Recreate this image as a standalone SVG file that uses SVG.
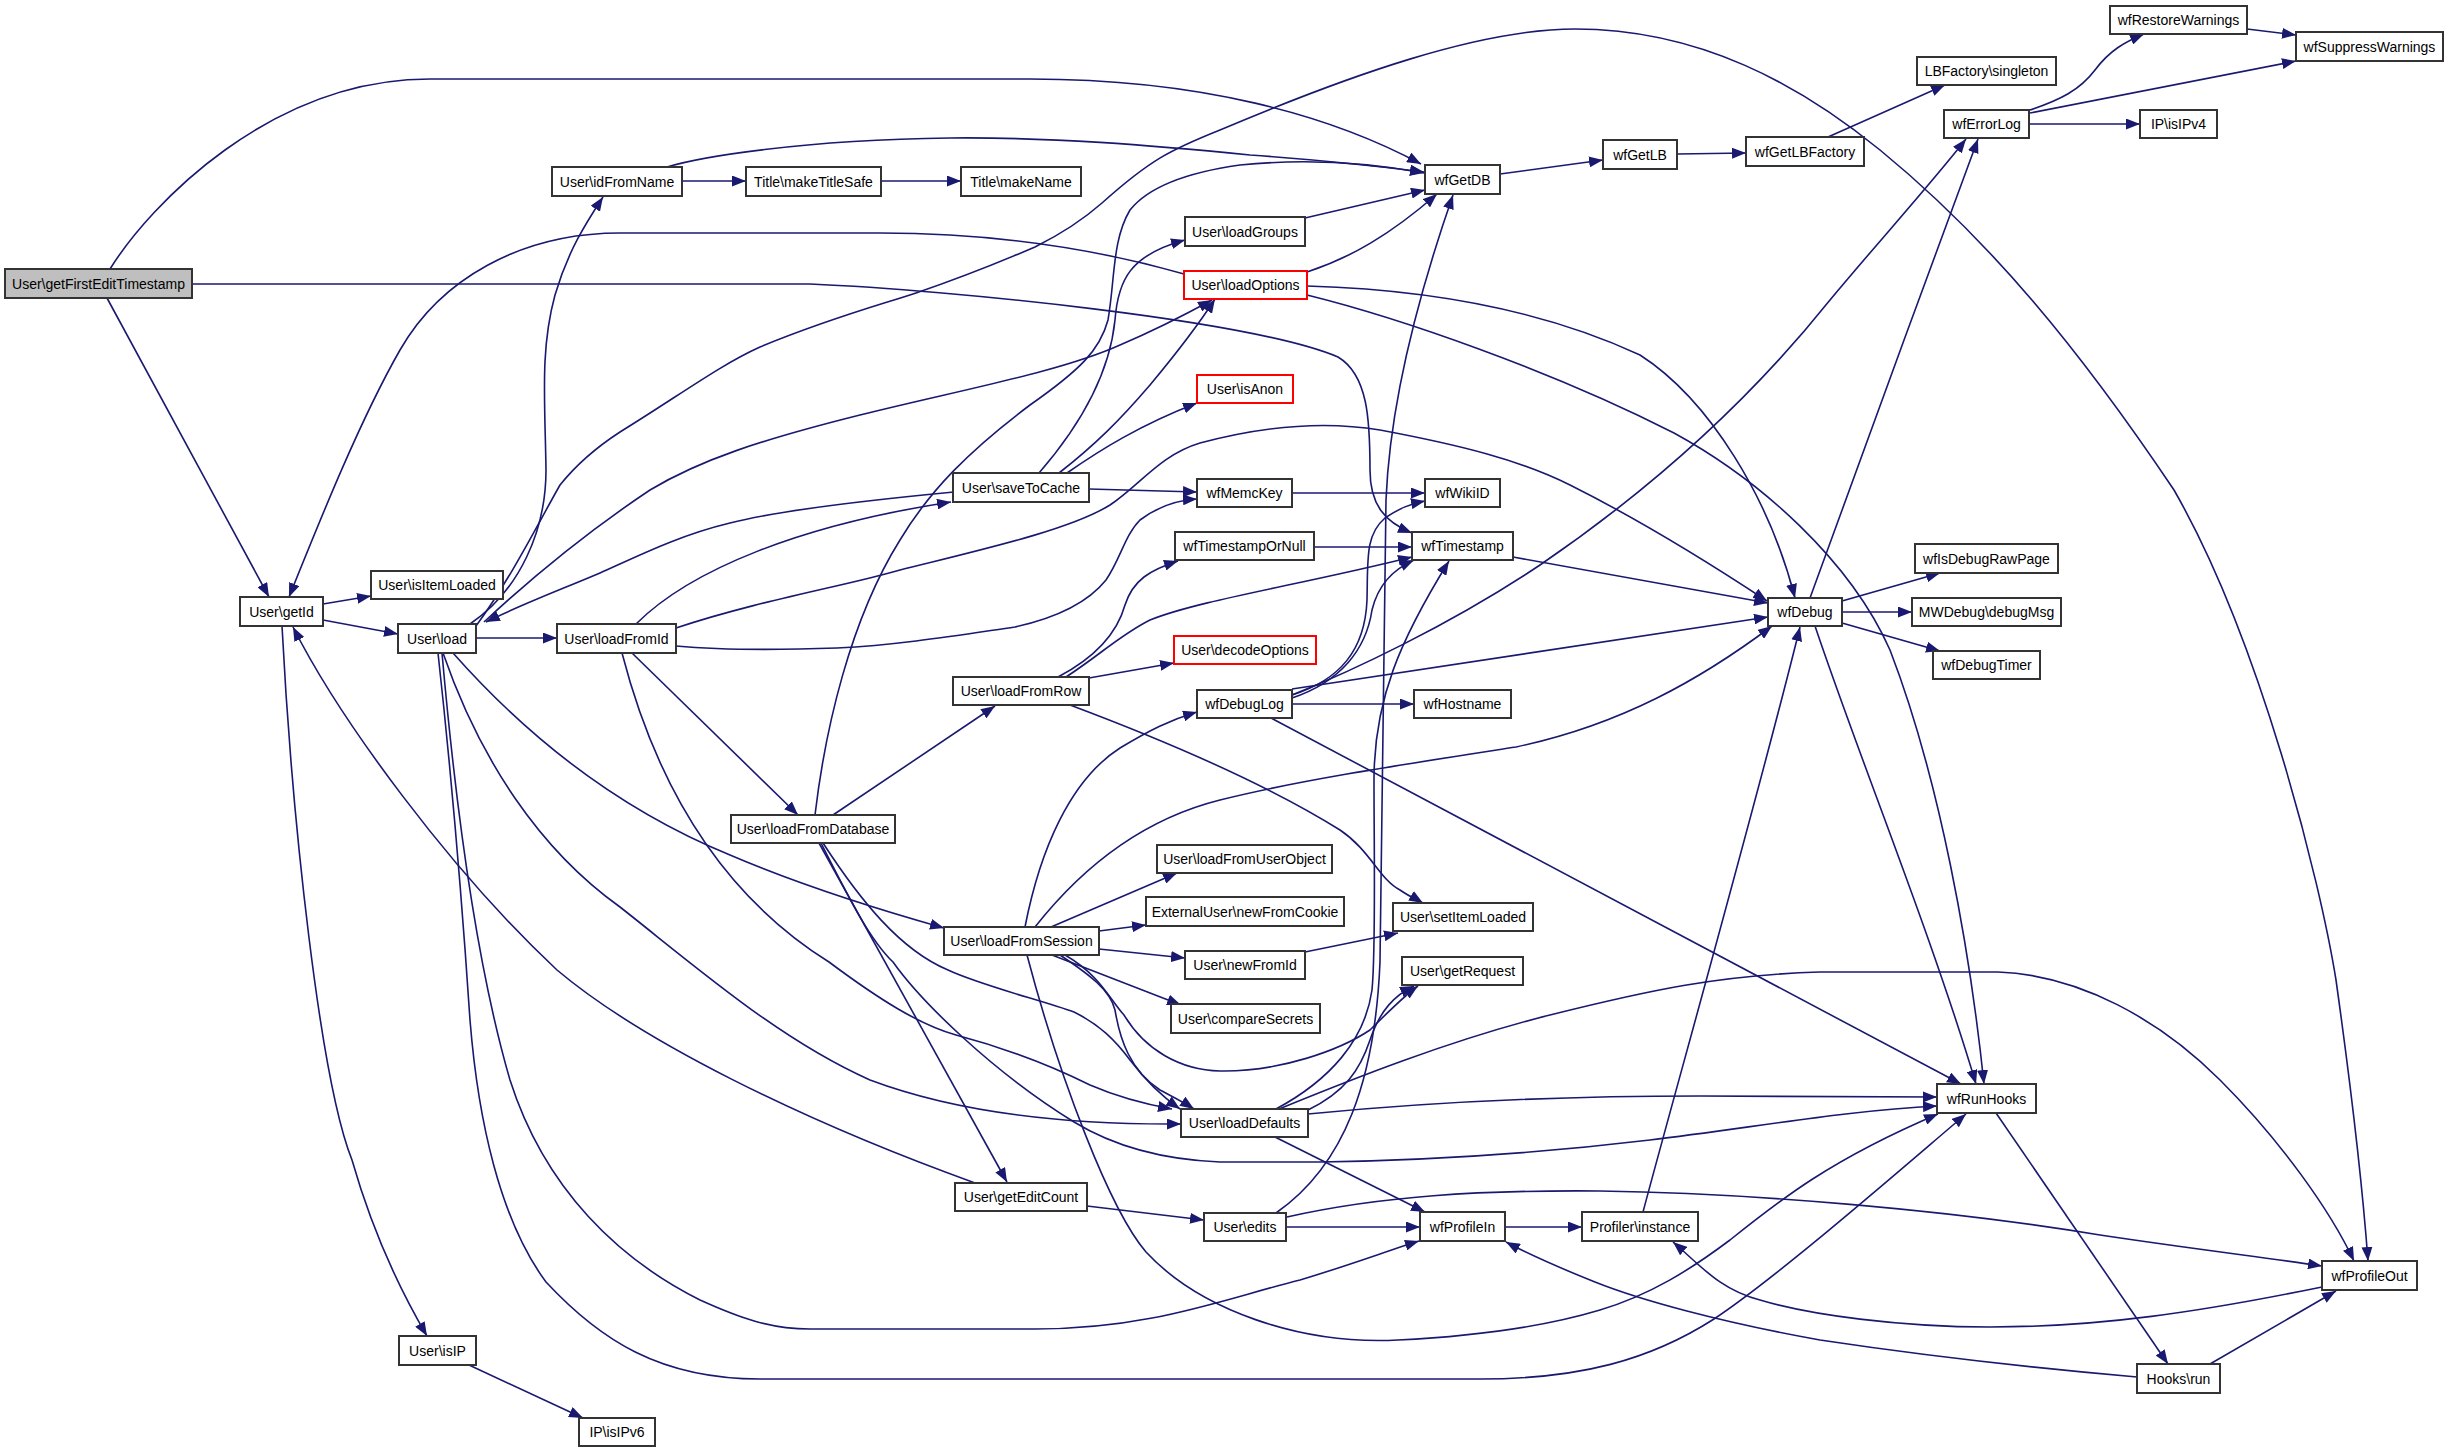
<svg xmlns="http://www.w3.org/2000/svg" width="2448" height="1452" viewBox="0 0 2448 1452">
<defs>
<style>
.e{fill:none;stroke:#191970;stroke-width:1.6;marker-end:url(#arr)}
.n rect{fill:#ffffff;stroke:#333333;stroke-width:2}
.n.red rect{stroke:#ff0000}
.n.root rect{fill:#bfbfbf}
.n text{font-family:"Liberation Sans",Arial,sans-serif;font-size:14px;fill:#000000;text-anchor:middle}
</style>
<marker id="arr" markerUnits="userSpaceOnUse" markerWidth="15" markerHeight="11" refX="14" refY="5.5" orient="auto"><path d="M0,0 L14,5.5 L0,11 z" fill="#191970"/></marker>
</defs>
<rect width="2448" height="1452" fill="#ffffff"/>
<g id="edges">
<path class="e" d="M110 269 C150 205 270 79 430 79 L1030 79 C1200 79 1330 115 1421 164"/>
<path class="e" d="M192 284 L810 284 C950 290 1250 320 1338 357 C1368 375 1370 420 1370 470 C1370 505 1385 522 1412 533"/>
<path class="e" d="M107 298 L269 597"/>
<path class="e" d="M323 604 L371 596"/>
<path class="e" d="M323 620 L398 634"/>
<path class="e" d="M282 626 C292 820 320 1080 352 1160 C372 1230 400 1290 427 1336"/>
<path class="e" d="M469 1365 L583 1418"/>
<path class="e" d="M470 624 C520 590 546 530 546 470 C545 400 540 350 555 295 C568 250 588 220 603 197"/>
<path class="e" d="M476 638 L557 638"/>
<path class="e" d="M484 622 C540 570 590 530 650 490 C700 460 760 440 860 415 C960 390 1060 372 1120 345 C1160 328 1190 312 1212 300"/>
<path class="e" d="M476 626 C510 580 540 520 560 485 C580 460 600 445 620 432 C680 395 720 365 760 347 C830 318 880 305 916 293 C960 278 1000 262 1035 247 C1065 232 1085 218 1102 203 C1150 160 1170 150 1220 130 C1350 75 1480 29 1575 29 C1700 29 1800 85 1880 150 C1990 240 2080 350 2174 490 C2260 640 2320 880 2336 980 C2350 1080 2362 1180 2368 1261"/>
<path class="e" d="M954 492 C870 500 780 510 730 523 C680 535 640 555 600 573 C560 590 520 605 486 622"/>
<path class="e" d="M453 653 C530 740 620 810 730 855 C800 885 880 910 944 928"/>
<path class="e" d="M443 653 C480 760 540 850 620 907 C700 970 780 1040 870 1080 C950 1110 1050 1125 1181 1124"/>
<path class="e" d="M438 653 C452 780 462 900 470 1020 C478 1120 500 1220 546 1282 C600 1340 660 1379 760 1379 L1480 1379 C1580 1379 1650 1360 1714 1319 C1780 1275 1900 1170 1966 1114"/>
<path class="e" d="M442 653 C455 800 475 960 510 1080 C545 1190 620 1260 700 1300 C740 1318 770 1329 810 1329 L1035 1329 C1150 1329 1220 1300 1300 1280 C1350 1265 1390 1250 1419 1241"/>
<path class="e" d="M636 624 C690 570 800 525 951 502"/>
<path class="e" d="M676 628 C760 600 850 585 900 570 C980 550 1070 530 1110 505 C1140 485 1160 455 1200 443 C1260 427 1320 420 1380 430 C1460 445 1520 460 1570 485 C1650 525 1720 570 1767 601"/>
<path class="e" d="M676 646 C720 650 780 650 837 648 C900 645 960 635 1015 627 C1060 617 1090 600 1106 580 C1120 560 1125 535 1140 520 C1160 505 1180 500 1197 499"/>
<path class="e" d="M632 653 L798 815"/>
<path class="e" d="M622 653 C660 800 730 900 829 962 C880 1000 920 1025 956 1035 C1020 1052 1060 1070 1090 1085 C1120 1098 1150 1105 1172 1109"/>
<path class="e" d="M815 815 C825 730 850 620 900 540 C930 490 970 450 1030 405 C1080 370 1100 350 1108 320 C1115 280 1112 240 1130 210 C1150 185 1190 172 1240 165 C1310 158 1370 163 1424 173"/>
<path class="e" d="M833 815 L995 706"/>
<path class="e" d="M819 843 L1007 1182"/>
<path class="e" d="M823 843 C860 900 900 950 948 970 C980 985 1040 1000 1074 1012 C1100 1025 1115 1040 1130 1060 C1145 1080 1160 1095 1180 1109"/>
<path class="e" d="M821 843 C850 900 870 940 893 962 C920 1000 990 1070 1074 1122 C1120 1150 1170 1160 1220 1162 L1320 1162 C1450 1160 1550 1152 1650 1140 C1750 1128 1850 1110 1937 1106"/>
<path class="e" d="M1058 677 C1100 655 1118 630 1125 605 C1133 580 1150 570 1178 561"/>
<path class="e" d="M1066 677 C1100 655 1120 635 1150 620 C1200 600 1300 585 1412 557"/>
<path class="e" d="M1089 678 L1174 663"/>
<path class="e" d="M1070 705 C1150 735 1260 780 1340 830 C1370 850 1380 880 1400 890 C1410 897 1418 900 1423 903"/>
<path class="e" d="M1305 952 L1398 933"/>
<path class="e" d="M1025 927 C1040 850 1070 780 1120 748 C1150 730 1170 720 1197 712"/>
<path class="e" d="M1035 927 C1080 870 1140 820 1220 800 C1300 780 1400 765 1516 747 C1620 725 1700 680 1772 626"/>
<path class="e" d="M1051 927 L1177 873"/>
<path class="e" d="M1099 931 L1146 925"/>
<path class="e" d="M1099 949 L1185 958"/>
<path class="e" d="M1052 955 L1181 1005"/>
<path class="e" d="M1060 955 C1090 975 1110 990 1115 1010 C1120 1040 1130 1070 1160 1090 C1175 1098 1185 1103 1194 1109"/>
<path class="e" d="M1065 955 C1100 975 1110 1000 1124 1015 C1145 1050 1180 1070 1220 1071 C1280 1072 1340 1050 1370 1030 C1390 1010 1405 995 1418 986"/>
<path class="e" d="M1027 955 C1060 1080 1110 1210 1146 1252 C1200 1310 1300 1345 1398 1340 C1480 1336 1550 1325 1600 1310 C1650 1295 1690 1270 1730 1240 C1780 1200 1830 1160 1938 1114"/>
<path class="e" d="M1308 1114 C1420 1103 1560 1096 1700 1096 L1937 1097"/>
<path class="e" d="M1279 1109 C1350 1080 1450 1040 1550 1015 C1650 990 1720 975 1820 972 L1998 972 C2080 975 2160 1020 2220 1080 C2280 1140 2330 1210 2354 1261"/>
<path class="e" d="M1308 1110 C1345 1092 1360 1070 1370 1040 C1380 1010 1395 995 1414 986"/>
<path class="e" d="M1276 1109 C1330 1080 1365 1040 1372 990 C1376 950 1374 850 1374 780 C1374 700 1400 640 1449 561"/>
<path class="e" d="M1275 1137 L1425 1212"/>
<path class="e" d="M1276 1213 C1345 1165 1375 1080 1380 962 L1386 500 C1390 400 1420 290 1453 195"/>
<path class="e" d="M1286 1227 L1420 1227"/>
<path class="e" d="M1287 1217 C1380 1196 1480 1190 1600 1191 C1750 1193 1950 1210 2100 1235 C2200 1250 2270 1258 2322 1266"/>
<path class="e" d="M1087 1206 L1204 1220"/>
<path class="e" d="M975 1183 C800 1120 640 1040 557 970 C450 870 340 720 293 627"/>
<path class="e" d="M1505 1227 L1582 1227"/>
<path class="e" d="M1643 1212 C1670 1110 1760 790 1800 627"/>
<path class="e" d="M2322 1287 C2200 1312 2100 1327 1990 1327 C1900 1327 1810 1315 1760 1300 C1720 1290 1700 1265 1673 1242"/>
<path class="e" d="M2137 1377 C2000 1365 1900 1352 1820 1340 C1720 1322 1640 1300 1595 1282 C1560 1268 1530 1255 1506 1242"/>
<path class="e" d="M1996 1113 L2168 1364"/>
<path class="e" d="M2210 1364 L2336 1291"/>
<path class="e" d="M1815 626 C1860 760 1930 930 1976 1084"/>
<path class="e" d="M1810 598 C1830 540 1930 270 1978 139"/>
<path class="e" d="M1842 601 L1940 573"/>
<path class="e" d="M1842 612 L1912 612"/>
<path class="e" d="M1842 623 L1940 651"/>
<path class="e" d="M1513 557 L1768 603"/>
<path class="e" d="M1314 547 L1412 547"/>
<path class="e" d="M1292 493 L1425 493"/>
<path class="e" d="M1292 695 C1340 680 1365 650 1367 600 C1368 560 1365 535 1385 518 C1400 508 1410 504 1425 501"/>
<path class="e" d="M1292 698 C1340 682 1366 650 1372 610 C1378 585 1392 570 1414 560"/>
<path class="e" d="M1292 695 C1350 672 1450 625 1540 565 C1650 490 1750 400 1830 300 C1880 240 1930 185 1966 139"/>
<path class="e" d="M1292 689 L1768 617"/>
<path class="e" d="M1292 704 L1414 704"/>
<path class="e" d="M1271 718 L1961 1084"/>
<path class="e" d="M1500 174 L1603 160"/>
<path class="e" d="M1677 154 L1746 153"/>
<path class="e" d="M1828 137 L1945 85"/>
<path class="e" d="M2030 110 C2060 100 2080 90 2095 70 C2110 50 2125 42 2144 34"/>
<path class="e" d="M2030 113 L2296 61"/>
<path class="e" d="M2029 124 L2140 124"/>
<path class="e" d="M2247 29 L2296 35"/>
<path class="e" d="M682 181 L746 181"/>
<path class="e" d="M881 181 L961 181"/>
<path class="e" d="M667 167 C700 157 800 140 950 138 C1050 137 1150 145 1250 155 C1320 160 1370 165 1424 172"/>
<path class="e" d="M1305 218 L1425 190"/>
<path class="e" d="M1307 272 C1350 258 1390 235 1437 194"/>
<path class="e" d="M1184 274 C1100 250 1000 233 880 233 L620 233 C520 233 440 280 400 350 C360 420 320 520 289 597"/>
<path class="e" d="M1307 286 C1450 290 1560 318 1640 355 C1710 400 1770 500 1795 598"/>
<path class="e" d="M1307 295 C1400 318 1550 370 1674 433 C1760 480 1850 560 1890 650 C1940 780 1970 950 1984 1084"/>
<path class="e" d="M1039 473 C1085 420 1110 370 1115 320 C1118 280 1130 255 1185 240"/>
<path class="e" d="M1059 473 C1095 445 1120 420 1150 385 C1175 355 1195 330 1215 299"/>
<path class="e" d="M1067 473 C1100 450 1140 425 1197 403"/>
<path class="e" d="M1089 489 L1197 492"/>
</g>
<g id="node-getFirstEditTimestamp" class="n root"><rect x="5" y="269" width="187" height="29"/><text x="98.5" y="288.5">User\getFirstEditTimestamp</text></g>
<g id="node-idFromName" class="n"><rect x="552" y="167" width="130" height="29"/><text x="617" y="186.5">User\idFromName</text></g>
<g id="node-makeTitleSafe" class="n"><rect x="746" y="167" width="135" height="29"/><text x="813.5" y="186.5">Title\makeTitleSafe</text></g>
<g id="node-makeName" class="n"><rect x="961" y="167" width="120" height="29"/><text x="1021" y="186.5">Title\makeName</text></g>
<g id="node-wfGetDB" class="n"><rect x="1425" y="165" width="75" height="29"/><text x="1462.5" y="184.5">wfGetDB</text></g>
<g id="node-wfGetLB" class="n"><rect x="1603" y="140" width="74" height="29"/><text x="1640" y="159.5">wfGetLB</text></g>
<g id="node-wfGetLBFactory" class="n"><rect x="1746" y="137" width="118" height="29"/><text x="1805" y="156.5">wfGetLBFactory</text></g>
<g id="node-LBFactory-singleton" class="n"><rect x="1917" y="57" width="139" height="28"/><text x="1986.5" y="76">LBFactory\singleton</text></g>
<g id="node-wfErrorLog" class="n"><rect x="1944" y="110" width="85" height="28"/><text x="1986.5" y="129">wfErrorLog</text></g>
<g id="node-IP-isIPv4" class="n"><rect x="2140" y="110" width="77" height="28"/><text x="2178.5" y="129">IP\isIPv4</text></g>
<g id="node-wfRestoreWarnings" class="n"><rect x="2110" y="6" width="137" height="28"/><text x="2178.5" y="25">wfRestoreWarnings</text></g>
<g id="node-wfSuppressWarnings" class="n"><rect x="2296" y="32" width="147" height="29"/><text x="2369.5" y="51.5">wfSuppressWarnings</text></g>
<g id="node-loadGroups" class="n"><rect x="1185" y="217" width="120" height="29"/><text x="1245" y="236.5">User\loadGroups</text></g>
<g id="node-loadOptions" class="n red"><rect x="1184" y="271" width="123" height="28"/><text x="1245.5" y="290">User\loadOptions</text></g>
<g id="node-isAnon" class="n red"><rect x="1197" y="375" width="96" height="28"/><text x="1245" y="394">User\isAnon</text></g>
<g id="node-saveToCache" class="n"><rect x="953" y="473" width="136" height="29"/><text x="1021" y="492.5">User\saveToCache</text></g>
<g id="node-wfMemcKey" class="n"><rect x="1197" y="479" width="95" height="28"/><text x="1244.5" y="498">wfMemcKey</text></g>
<g id="node-wfWikiID" class="n"><rect x="1425" y="479" width="75" height="28"/><text x="1462.5" y="498">wfWikiID</text></g>
<g id="node-wfTimestampOrNull" class="n"><rect x="1175" y="532" width="139" height="28"/><text x="1244.5" y="551">wfTimestampOrNull</text></g>
<g id="node-wfTimestamp" class="n"><rect x="1412" y="532" width="101" height="28"/><text x="1462.5" y="551">wfTimestamp</text></g>
<g id="node-getId" class="n"><rect x="240" y="597" width="83" height="29"/><text x="281.5" y="616.5">User\getId</text></g>
<g id="node-isItemLoaded" class="n"><rect x="371" y="571" width="132" height="28"/><text x="437" y="590">User\isItemLoaded</text></g>
<g id="node-load" class="n"><rect x="398" y="624" width="78" height="29"/><text x="437" y="643.5">User\load</text></g>
<g id="node-loadFromId" class="n"><rect x="557" y="624" width="119" height="29"/><text x="616.5" y="643.5">User\loadFromId</text></g>
<g id="node-wfDebug" class="n"><rect x="1768" y="598" width="74" height="28"/><text x="1805" y="617">wfDebug</text></g>
<g id="node-wfIsDebugRawPage" class="n"><rect x="1915" y="544" width="143" height="29"/><text x="1986.5" y="563.5">wfIsDebugRawPage</text></g>
<g id="node-MWDebug-debugMsg" class="n"><rect x="1912" y="598" width="149" height="28"/><text x="1986.5" y="617">MWDebug\debugMsg</text></g>
<g id="node-wfDebugTimer" class="n"><rect x="1933" y="651" width="107" height="28"/><text x="1986.5" y="670">wfDebugTimer</text></g>
<g id="node-decodeOptions" class="n red"><rect x="1174" y="636" width="142" height="28"/><text x="1245" y="655">User\decodeOptions</text></g>
<g id="node-loadFromRow" class="n"><rect x="953" y="677" width="136" height="28"/><text x="1021" y="696">User\loadFromRow</text></g>
<g id="node-wfDebugLog" class="n"><rect x="1197" y="690" width="95" height="28"/><text x="1244.5" y="709">wfDebugLog</text></g>
<g id="node-wfHostname" class="n"><rect x="1414" y="690" width="97" height="28"/><text x="1462.5" y="709">wfHostname</text></g>
<g id="node-loadFromDatabase" class="n"><rect x="731" y="815" width="164" height="28"/><text x="813" y="834">User\loadFromDatabase</text></g>
<g id="node-loadFromUserObject" class="n"><rect x="1157" y="845" width="175" height="28"/><text x="1244.5" y="864">User\loadFromUserObject</text></g>
<g id="node-newFromCookie" class="n"><rect x="1146" y="897" width="198" height="29"/><text x="1245" y="916.5">ExternalUser\newFromCookie</text></g>
<g id="node-setItemLoaded" class="n"><rect x="1393" y="903" width="140" height="28"/><text x="1463" y="922">User\setItemLoaded</text></g>
<g id="node-loadFromSession" class="n"><rect x="944" y="927" width="155" height="28"/><text x="1021.5" y="946">User\loadFromSession</text></g>
<g id="node-newFromId" class="n"><rect x="1185" y="951" width="120" height="28"/><text x="1245" y="970">User\newFromId</text></g>
<g id="node-getRequest" class="n"><rect x="1402" y="957" width="121" height="28"/><text x="1462.5" y="976">User\getRequest</text></g>
<g id="node-compareSecrets" class="n"><rect x="1171" y="1004" width="149" height="29"/><text x="1245.5" y="1023.5">User\compareSecrets</text></g>
<g id="node-wfRunHooks" class="n"><rect x="1937" y="1084" width="99" height="29"/><text x="1986.5" y="1103.5">wfRunHooks</text></g>
<g id="node-loadDefaults" class="n"><rect x="1181" y="1109" width="127" height="28"/><text x="1244.5" y="1128">User\loadDefaults</text></g>
<g id="node-getEditCount" class="n"><rect x="955" y="1183" width="132" height="28"/><text x="1021" y="1202">User\getEditCount</text></g>
<g id="node-edits" class="n"><rect x="1204" y="1213" width="82" height="28"/><text x="1245" y="1232">User\edits</text></g>
<g id="node-wfProfileIn" class="n"><rect x="1420" y="1212" width="85" height="29"/><text x="1462.5" y="1231.5">wfProfileIn</text></g>
<g id="node-Profiler-instance" class="n"><rect x="1582" y="1212" width="116" height="29"/><text x="1640" y="1231.5">Profiler\instance</text></g>
<g id="node-wfProfileOut" class="n"><rect x="2322" y="1261" width="95" height="29"/><text x="2369.5" y="1280.5">wfProfileOut</text></g>
<g id="node-isIP" class="n"><rect x="399" y="1336" width="77" height="29"/><text x="437.5" y="1355.5">User\isIP</text></g>
<g id="node-Hooks-run" class="n"><rect x="2137" y="1364" width="83" height="29"/><text x="2178.5" y="1383.5">Hooks\run</text></g>
<g id="node-IP-isIPv6" class="n"><rect x="579" y="1418" width="76" height="28"/><text x="617" y="1437">IP\isIPv6</text></g>
</svg>
